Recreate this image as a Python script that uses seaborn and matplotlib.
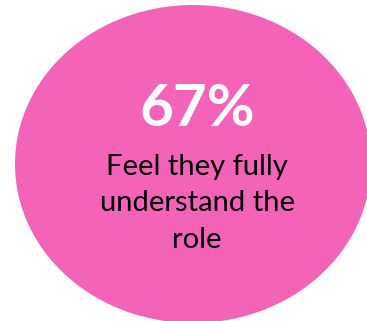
import matplotlib
matplotlib.use("Agg")
import matplotlib.pyplot as plt
from matplotlib.patches import Ellipse
import seaborn as sns

# Data
percent_value = 67
caption_lines = ["Feel they fully", "understand the", "role"]

sns.set_theme(style="white")
plt.rcParams['font.family'] = ['Lato', 'DejaVu Sans']

fig = plt.figure(figsize=(3.67, 3.21), dpi=100)
ax = fig.add_axes([0, 0, 1, 1])
ax.set_xlim(0, 367)
ax.set_ylim(321, 0)
ax.axis("off")

ax.add_patch(Ellipse((193, 164), 356, 318, facecolor="#F364B8", edgecolor="none"))

ax.text(197, 109, f"{percent_value}%", color="white", fontsize=42, fontweight="bold",
        ha="center", va="center")
ys = [167, 203, 240]
for y, line in zip(ys, caption_lines):
    ax.text(197, y, line, color="black", fontsize=21, ha="center", va="center")

fig.savefig("out.png", dpi=100)
